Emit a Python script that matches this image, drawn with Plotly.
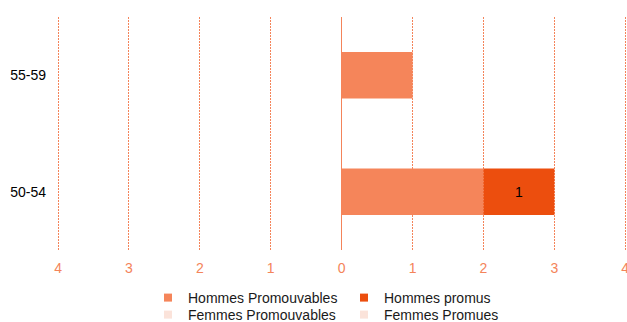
import plotly.graph_objects as go

categories = ["50-54", "55-59"]
hommes_promouvables = [2, 1]
hommes_promus = [1, 0]
femmes_promouvables = [0, 0]
femmes_promues = [0, 0]
tick_values = [-4, -3, -2, -1, 0, 1, 2, 3, 4]
tick_labels = ["4", "3", "2", "1", "0", "1", "2", "3", "4"]

C_HP = "#F5855A"
C_HPR = "#EC4E0E"
C_FP = "#FBE3DA"
C_FPR = "#FBE3DA"
ORANGE = "#F4845A"
FONT = "Liberation Sans, Arial, sans-serif"

fig = go.Figure()

def label(vals):
    return [str(v) if v else "" for v in vals]

fig.add_trace(go.Bar(y=categories, x=hommes_promouvables, orientation="h",
                     marker=dict(color=C_HP, line=dict(width=0)), showlegend=False,
                     hoverinfo="x+y"))
fig.add_trace(go.Bar(y=categories, x=hommes_promus, orientation="h",
                     marker=dict(color=C_HPR, line=dict(width=0)), showlegend=False,
                     text=label(hommes_promus), textposition="inside",
                     insidetextanchor="middle",
                     textfont=dict(color="#000000", size=14, family=FONT)))
fig.add_trace(go.Bar(y=categories, x=[-v for v in femmes_promouvables], orientation="h",
                     marker=dict(color=C_FP, line=dict(width=0)), showlegend=False))
fig.add_trace(go.Bar(y=categories, x=[-v for v in femmes_promues], orientation="h",
                     marker=dict(color=C_FPR, line=dict(width=0)), showlegend=False))

# legend entries (small square markers)
legend_items = [
    ("Hommes Promouvables", C_HP, "legend"),
    ("Hommes promus", C_HPR, "legend"),
    ("Femmes Promouvables", C_FP, "legend2"),
    ("Femmes Promues", C_FPR, "legend2"),
]
for name, col, lg in legend_items:
    fig.add_trace(go.Scatter(x=[None], y=[None], mode="markers", name=name,
                             marker=dict(symbol="square", size=8, color=col),
                             legend=lg, showlegend=True))

legend_common = dict(orientation="h", xref="container", yref="container",
                     xanchor="left", yanchor="middle", entrywidth=151,
                     font=dict(size=14, color="#1a1a1a", family=FONT),
                     bgcolor="rgba(0,0,0,0)", itemclick=False, tracegroupgap=0)

fig.update_layout(
    width=627, height=322,
    margin=dict(l=57, r=0, t=17, b=72, autoexpand=False),
    paper_bgcolor="white", plot_bgcolor="white",
    barmode="relative", bargap=0.6,
    font=dict(family=FONT, size=14, color="#000000"),
    legend=dict(x=148 / 627, y=(322 - 298) / 322, **legend_common),
    legend2=dict(x=148 / 627, y=(322 - 315) / 322, **legend_common),
    xaxis=dict(range=[-4.015, 4.025], tickvals=tick_values, ticktext=tick_labels,
               showgrid=True, gridcolor=ORANGE, griddash="2px,1px", gridwidth=1,
               zeroline=True, zerolinecolor=ORANGE, zerolinewidth=1,
               tickfont=dict(color=ORANGE, size=14, family=FONT),
               ticklabeloverflow="allow",
               ticks="", showline=False, ticklabelstandoff=8, fixedrange=True,
               automargin=False),
    yaxis=dict(type="category", categoryorder="array", categoryarray=categories,
               showgrid=False, zeroline=False, showline=False, ticks="",
               tickfont=dict(color="#000000", size=14, family=FONT),
               ticklabelstandoff=10, fixedrange=True, automargin=False),
)

fig.write_html("out.html", config={"displayModeBar": False},
               post_script="document.body.style.margin='0';document.body.style.overflow='hidden';")
